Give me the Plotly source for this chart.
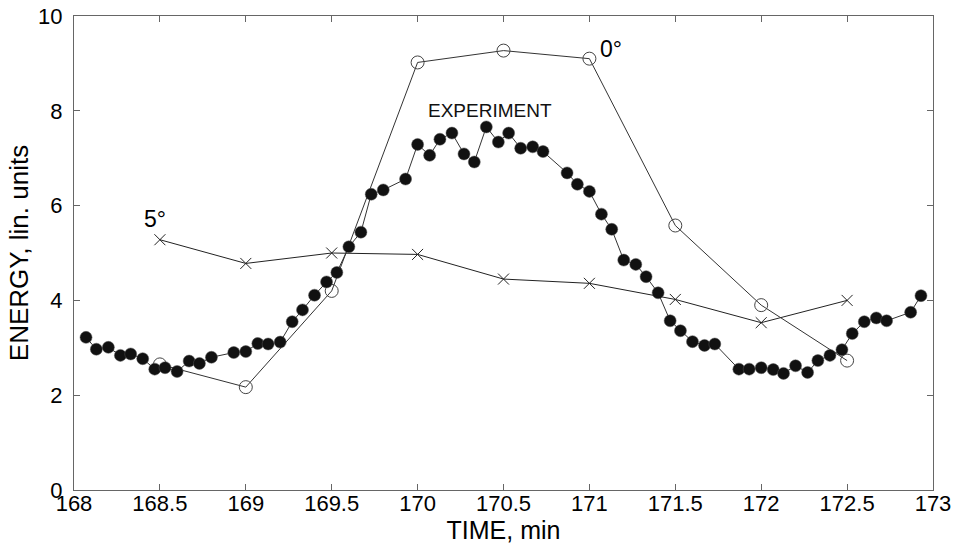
import plotly.graph_objects as go

# Experiment series
exp_time = [168.07, 168.13, 168.20, 168.27, 168.33, 168.40, 168.47, 168.53, 168.60, 168.67,
            168.73, 168.80, 168.93, 169.00, 169.07, 169.13, 169.20, 169.27, 169.33, 169.40,
            169.47, 169.53, 169.60, 169.67, 169.73, 169.80, 169.93, 170.00, 170.07, 170.13,
            170.20, 170.27, 170.33, 170.40, 170.47, 170.53, 170.60, 170.67, 170.73, 170.87,
            170.93, 171.00, 171.07, 171.13, 171.20, 171.27, 171.33, 171.40, 171.47, 171.53,
            171.60, 171.67, 171.73, 171.87, 171.93, 172.00, 172.07, 172.13, 172.20, 172.27,
            172.33, 172.40, 172.47, 172.53, 172.60, 172.67, 172.73, 172.87, 172.93]
exp_energy = [3.22, 2.97, 3.01, 2.84, 2.87, 2.77, 2.55, 2.58, 2.50, 2.72,
              2.67, 2.80, 2.90, 2.92, 3.09, 3.08, 3.12, 3.55, 3.80, 4.11,
              4.39, 4.59, 5.13, 5.44, 6.24, 6.33, 6.56, 7.29, 7.06, 7.40,
              7.53, 7.09, 6.92, 7.66, 7.34, 7.53, 7.21, 7.24, 7.14, 6.69,
              6.45, 6.30, 5.82, 5.50, 4.85, 4.76, 4.50, 4.16, 3.57, 3.36,
              3.13, 3.05, 3.08, 2.55, 2.55, 2.58, 2.54, 2.46, 2.62, 2.48,
              2.73, 2.84, 2.96, 3.30, 3.55, 3.63, 3.57, 3.75, 4.10]

# Model series
model_time = [168.5, 169.0, 169.5, 170.0, 170.5, 171.0, 171.5, 172.0, 172.5]
energy_0deg = [2.65, 2.17, 4.20, 9.02, 9.27, 9.10, 5.58, 3.90, 2.73]
energy_5deg = [5.28, 4.78, 5.00, 4.97, 4.45, 4.36, 4.02, 3.53, 4.00]

x_ticks = [168, 168.5, 169, 169.5, 170, 170.5, 171, 171.5, 172, 172.5, 173]
y_ticks = [0, 2, 4, 6, 8, 10]

FONT = "Arial, Liberation Sans, sans-serif"

fig = go.Figure()
fig.add_trace(go.Scatter(
    x=model_time, y=energy_5deg, mode="lines+markers",
    line=dict(color="#222", width=1),
    marker=dict(symbol="x-thin-open", size=11, line=dict(color="#333", width=1)),
    showlegend=False))
fig.add_trace(go.Scatter(
    x=model_time, y=energy_0deg, mode="lines+markers",
    line=dict(color="#333", width=1),
    marker=dict(symbol="circle-open", size=13, color="#444", line=dict(color="#444", width=1)),
    showlegend=False))
fig.add_trace(go.Scatter(
    x=exp_time, y=exp_energy, mode="lines+markers",
    line=dict(color="#333", width=1),
    marker=dict(symbol="circle", size=12, color="#111", line=dict(color="#555", width=0.5)),
    showlegend=False))

fig.add_annotation(x=171.05, y=9.3, text="0°", showarrow=False, xanchor="left",
                   yanchor="middle", font=dict(family=FONT, size=23, color="#000"))
fig.add_annotation(x=168.47, y=5.72, text="5°", showarrow=False, xanchor="center",
                   yanchor="middle", font=dict(family=FONT, size=23, color="#000"))
fig.add_annotation(x=170.42, y=8.0, text="EXPERIMENT", showarrow=False, xanchor="center",
                   yanchor="middle", font=dict(family=FONT, size=19, color="#111"))

axis_common = dict(
    showgrid=False, zeroline=False, showline=True, linecolor="#666", linewidth=1,
    mirror="ticks", ticks="inside", ticklen=6, tickcolor="#666", automargin=False,
    ticklabeloverflow="allow",
    tickfont=dict(family=FONT, size=22, color="#000"),
)
fig.update_xaxes(range=[168, 173], tickvals=x_ticks,
                 ticktext=[f"{v:g}" for v in x_ticks], ticklabelstandoff=-6,
                 title=dict(text="TIME, min", font=dict(family=FONT, size=25, color="#000"), standoff=0),
                 **axis_common)
fig.update_yaxes(range=[0, 10], tickvals=y_ticks,
                 ticktext=[str(v) for v in y_ticks], ticklabelstandoff=6,
                 title=dict(text="ENERGY, lin. units", font=dict(family=FONT, size=26, color="#000"), standoff=2),
                 **axis_common)

fig.update_layout(
    width=953, height=548,
    margin=dict(l=74, r=20, t=16, b=58),
    paper_bgcolor="white", plot_bgcolor="white",
)
fig.write_html("out.html", post_script="document.body.style.margin='0';",
               config={"displayModeBar": False})
